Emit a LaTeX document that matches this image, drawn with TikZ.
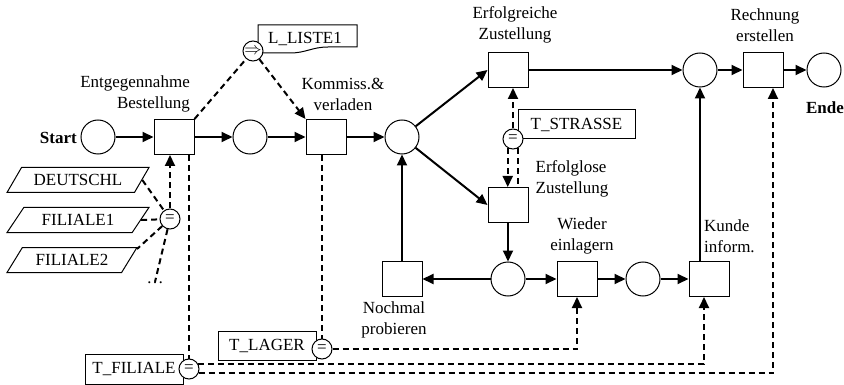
\documentclass[tikz,border=0pt]{standalone}
\usepackage{fontspec}
\setmainfont{Liberation Serif}
\usetikzlibrary{arrows.meta,shapes.geometric}
\tikzset{
  place/.style={circle,draw,line width=1pt,minimum size=34pt,inner sep=0pt},
  trans/.style={rectangle,draw,line width=1pt,minimum width=40pt,minimum height=35pt,inner sep=0pt},
  eqnode/.style={circle,draw,fill=white,line width=1pt,minimum size=20pt,inner sep=0pt},
  tablebox/.style={rectangle,draw,line width=1pt,inner sep=0pt},
  region/.style={trapezium,draw,line width=1pt,trapezium left angle=45,trapezium right angle=135,
    trapezium stretches=true,minimum height=25pt,inner sep=0pt},
  lbl/.style={inner sep=0pt},
  arc/.style={-{Triangle[length=11pt,width=10pt]},line width=2pt},
  link/.style={dash pattern=on 6pt off 4pt,line width=2pt},
  linkarc/.style={link,-{Triangle[length=11pt,width=10pt]}},
}
\begin{document}
\begin{tikzpicture}[x=1pt,y=-1pt,font=\fontsize{17}{21}\selectfont]
  \useasboundingbox (0,0) rectangle (844,385);
  % places and transitions
  \draw
    (98,137) node[place] (pStart){}
    (174,137) node[trans] (tEnt){}
    (250,137) node[place] (p2){}
    (326,137) node[trans] (tKom){}
    (402,137) node[place] (p3){}
    (508,70) node[trans] (tErfolg){}
    (700,70) node[place] (p4){}
    (763,70) node[trans] (tRech){}
    (824,70) node[place] (pEnde){}
    (508,205) node[trans] (tFail){}
    (508,279) node[place] (p5){}
    (402,279) node[trans] (tNoch){}
    (577,279) node[trans] (tWied){}
    (643,279) node[place] (p6){}
    (709,279) node[trans] (tKunde){};
  % labels
  \node[lbl,anchor=east,font=\fontsize{17}{21}\selectfont\bfseries] (lStart) at (77,138) {Start};
  \node[lbl,font=\fontsize{17}{21}\selectfont\bfseries] (lEnde) at (825,108) {Ende};
  \node[lbl,anchor=east,align=right] (lEnt) at (190,94) {Entgegennahme\\Bestellung};
  \node[lbl,align=center] (lKom) at (343,94) {Kommiss.\&\\verladen};
  \node[lbl,align=center] (lErfolg) at (515,25) {Erfolgreiche\\Zustellung};
  \node[lbl,align=center] (lRech) at (765,25) {Rechnung\\erstellen};
  \node[lbl,align=left] (lFail) at (572,179) {Erfolglose\\Zustellung};
  \node[lbl,align=center] (lNoch) at (394,320) {Nochmal\\probieren};
  \node[lbl,align=center] (lWied) at (582,236) {Wieder\\einlagern};
  \node[lbl,anchor=west,align=left] (lKunde) at (704,236) {Kunde\\inform.};
  % data objects
  \node[region,minimum width=142pt] (deu) at (78,180) {DEUTSCHL};
  \node[region,minimum width=142pt] (fil1) at (78,220) {FILIALE1};
  \node[region,minimum width=130pt] (fil2) at (72,260) {FILIALE2};
  \node[lbl] (dots) at (155,283) {\dots};
  \node[tablebox,minimum width=117pt,minimum height=29pt] (tbStr) at (576.5,124.5) {T\_STRASSE};
  \node[tablebox,minimum width=98pt,minimum height=30pt] (tbFil) at (134,369) {T\_FILIALE};
  \node[tablebox,minimum width=98pt,minimum height=29pt] (tbLag) at (267,345.5) {T\_LAGER};
  \draw[line width=1pt] (258,53) -- (258,25) -- (357,25) -- (357,47) -- (328,47)
    .. controls (312,47) and (306,53) .. (290,53) -- cycle;
  \node[lbl] (tbList) at (305,39) {L\_LISTE1};
  % connectors
  \node[eqnode] (cList) at (253,51) {$\Rightarrow$};
  \node[eqnode] (cStr) at (513,139) {=};
  \node[eqnode] (cReg) at (170,219) {=};
  \node[eqnode] (cFil) at (189,369) {=};
  \node[eqnode] (cLag) at (322,349) {=};
  \begin{scope}[arc]
    \draw (pStart) to (tEnt);
    \draw (tEnt) to (p2);
    \draw (p2) to (tKom);
    \draw (tKom) to (p3);
    \draw (p3) to (tErfolg.west);
    \draw (p3) to (tFail.west);
    \draw (tErfolg) to (p4);
    \draw (p4) to (tRech);
    \draw (tRech) to (pEnde);
    \draw (tFail) to (p5);
    \draw (p5) to (tNoch);
    \draw (p5) to (tWied);
    \draw (tWied) to (p6);
    \draw (p6) to (tKunde);
    \draw (p4 |- tKunde.north) to (p4);
    \draw (tNoch) to (p3);
  \end{scope}
  \begin{scope}[link]
    \draw (deu.east) to (cReg);
    \draw (fil1.east) to (cReg);
    \draw (cReg) to (137,249);
    \draw (cReg) to (dots.north);
    \draw (tEnt.north east) to (cList);
    \draw (tEnt.south -| cFil) to (cFil);
    \draw (tKom.south -| cLag) to (cLag);
    \draw (cStr.-60) to (cStr.-60 |- tFail.north);
  \end{scope}
  \begin{scope}[linkarc]
    \draw (cReg) to (cReg |- tEnt.south);
    \draw (cList) to (tKom.north west);
    \draw (cStr) to (cStr |- tErfolg.south);
    \draw (cStr.-120) to (cStr.-120 |- tFail.north);
    \draw (cLag.east) -| (tWied.south);
    \draw (cFil.30) -| ([xshift=-5pt]tKunde.south);
    \draw (cFil.-24) -| ([xshift=10pt]tRech.south);
  \end{scope}
\end{tikzpicture}
\end{document}
